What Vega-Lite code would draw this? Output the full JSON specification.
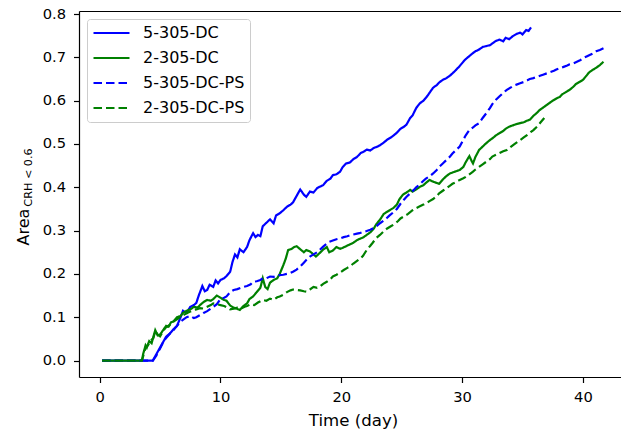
{
"$schema": "https://vega.github.io/schema/vega-lite/v6.json",
"width": 542, "height": 366,
"autosize": {"type": "none"},
"padding": {"left": 79, "top": 11, "right": 0, "bottom": 56},
"background": "white",
"config": {
  "view": {"stroke": null},
  "font": "DejaVu Sans",
  "axis": {"grid": false, "domainColor": "black", "tickColor": "black", "labelColor": "black", "titleColor": "black",
           "labelFont": "DejaVu Sans", "titleFont": "DejaVu Sans", "labelFontSize": 14.7, "titleFontWeight": "normal",
           "tickSize": 5.5, "domainWidth": 1.2, "tickWidth": 1.2}
},
"data": {"values": [
{"series":"5-305-DC","day":0.2,"area":0},{"series":"5-305-DC","day":1.5,"area":0},{"series":"5-305-DC","day":3,"area":0},{"series":"5-305-DC","day":4.4,"area":0},{"series":"5-305-DC","day":4.7,"area":0.015},{"series":"5-305-DC","day":5.0,"area":0.03},{"series":"5-305-DC","day":5.3,"area":0.045},{"series":"5-305-DC","day":5.5,"area":0.055},{"series":"5-305-DC","day":5.8,"area":0.062},{"series":"5-305-DC","day":6.1,"area":0.072},{"series":"5-305-DC","day":6.4,"area":0.08},{"series":"5-305-DC","day":6.7,"area":0.1},{"series":"5-305-DC","day":6.9,"area":0.115},{"series":"5-305-DC","day":7.2,"area":0.11},{"series":"5-305-DC","day":7.5,"area":0.124},{"series":"5-305-DC","day":7.8,"area":0.128},{"series":"5-305-DC","day":8.0,"area":0.133},{"series":"5-305-DC","day":8.2,"area":0.15},{"series":"5-305-DC","day":8.5,"area":0.172},{"series":"5-305-DC","day":8.7,"area":0.16},{"series":"5-305-DC","day":8.9,"area":0.163},{"series":"5-305-DC","day":9.1,"area":0.175},{"series":"5-305-DC","day":9.4,"area":0.17},{"series":"5-305-DC","day":9.6,"area":0.185},{"series":"5-305-DC","day":9.8,"area":0.178},{"series":"5-305-DC","day":10.0,"area":0.186},{"series":"5-305-DC","day":10.3,"area":0.19},{"series":"5-305-DC","day":10.5,"area":0.195},{"series":"5-305-DC","day":10.8,"area":0.205},{"series":"5-305-DC","day":11.0,"area":0.228},{"series":"5-305-DC","day":11.2,"area":0.245},{"series":"5-305-DC","day":11.4,"area":0.238},{"series":"5-305-DC","day":11.6,"area":0.257},{"series":"5-305-DC","day":11.9,"area":0.25},{"series":"5-305-DC","day":12.2,"area":0.262},{"series":"5-305-DC","day":12.4,"area":0.278},{"series":"5-305-DC","day":12.7,"area":0.294},{"series":"5-305-DC","day":12.9,"area":0.285},{"series":"5-305-DC","day":13.1,"area":0.29},{"series":"5-305-DC","day":13.3,"area":0.287},{"series":"5-305-DC","day":13.5,"area":0.31},{"series":"5-305-DC","day":13.8,"area":0.318},{"series":"5-305-DC","day":14.1,"area":0.326},{"series":"5-305-DC","day":14.4,"area":0.317},{"series":"5-305-DC","day":14.6,"area":0.335},{"series":"5-305-DC","day":14.9,"area":0.34},{"series":"5-305-DC","day":15.2,"area":0.347},{"series":"5-305-DC","day":15.5,"area":0.355},{"series":"5-305-DC","day":15.8,"area":0.36},{"series":"5-305-DC","day":16.0,"area":0.365},{"series":"5-305-DC","day":16.3,"area":0.38},{"series":"5-305-DC","day":16.6,"area":0.395},{"series":"5-305-DC","day":16.9,"area":0.383},{"series":"5-305-DC","day":17.1,"area":0.378},{"series":"5-305-DC","day":17.4,"area":0.39},{"series":"5-305-DC","day":17.7,"area":0.388},{"series":"5-305-DC","day":18.0,"area":0.398},{"series":"5-305-DC","day":18.2,"area":0.401},{"series":"5-305-DC","day":18.5,"area":0.405},{"series":"5-305-DC","day":18.8,"area":0.415},{"series":"5-305-DC","day":19.1,"area":0.42},{"series":"5-305-DC","day":19.3,"area":0.428},{"series":"5-305-DC","day":19.6,"area":0.43},{"series":"5-305-DC","day":19.9,"area":0.436},{"series":"5-305-DC","day":20.1,"area":0.446},{"series":"5-305-DC","day":20.4,"area":0.455},{"series":"5-305-DC","day":20.7,"area":0.457},{"series":"5-305-DC","day":21.0,"area":0.465},{"series":"5-305-DC","day":21.3,"area":0.47},{"series":"5-305-DC","day":21.6,"area":0.479},{"series":"5-305-DC","day":21.9,"area":0.483},{"series":"5-305-DC","day":22.1,"area":0.487},{"series":"5-305-DC","day":22.4,"area":0.485},{"series":"5-305-DC","day":22.7,"area":0.491},{"series":"5-305-DC","day":23.0,"area":0.494},{"series":"5-305-DC","day":23.2,"area":0.497},{"series":"5-305-DC","day":23.5,"area":0.503},{"series":"5-305-DC","day":23.8,"area":0.51},{"series":"5-305-DC","day":24.1,"area":0.515},{"series":"5-305-DC","day":24.3,"area":0.519},{"series":"5-305-DC","day":24.6,"area":0.526},{"series":"5-305-DC","day":24.9,"area":0.535},{"series":"5-305-DC","day":25.2,"area":0.54},{"series":"5-305-DC","day":25.4,"area":0.545},{"series":"5-305-DC","day":25.7,"area":0.56},{"series":"5-305-DC","day":25.9,"area":0.566},{"series":"5-305-DC","day":26.2,"area":0.583},{"series":"5-305-DC","day":26.5,"area":0.594},{"series":"5-305-DC","day":26.8,"area":0.6},{"series":"5-305-DC","day":27.1,"area":0.61},{"series":"5-305-DC","day":27.4,"area":0.622},{"series":"5-305-DC","day":27.6,"area":0.63},{"series":"5-305-DC","day":27.9,"area":0.636},{"series":"5-305-DC","day":28.1,"area":0.642},{"series":"5-305-DC","day":28.4,"area":0.648},{"series":"5-305-DC","day":28.7,"area":0.652},{"series":"5-305-DC","day":29.0,"area":0.658},{"series":"5-305-DC","day":29.2,"area":0.663},{"series":"5-305-DC","day":29.5,"area":0.671},{"series":"5-305-DC","day":29.8,"area":0.68},{"series":"5-305-DC","day":30.1,"area":0.69},{"series":"5-305-DC","day":30.3,"area":0.696},{"series":"5-305-DC","day":30.6,"area":0.703},{"series":"5-305-DC","day":30.9,"area":0.71},{"series":"5-305-DC","day":31.1,"area":0.714},{"series":"5-305-DC","day":31.4,"area":0.718},{"series":"5-305-DC","day":31.7,"area":0.724},{"series":"5-305-DC","day":32.0,"area":0.726},{"series":"5-305-DC","day":32.3,"area":0.728},{"series":"5-305-DC","day":32.6,"area":0.734},{"series":"5-305-DC","day":32.8,"area":0.738},{"series":"5-305-DC","day":33.1,"area":0.741},{"series":"5-305-DC","day":33.4,"area":0.737},{"series":"5-305-DC","day":33.6,"area":0.745},{"series":"5-305-DC","day":33.9,"area":0.742},{"series":"5-305-DC","day":34.2,"area":0.749},{"series":"5-305-DC","day":34.5,"area":0.754},{"series":"5-305-DC","day":34.8,"area":0.757},{"series":"5-305-DC","day":35.0,"area":0.753},{"series":"5-305-DC","day":35.3,"area":0.763},{"series":"5-305-DC","day":35.5,"area":0.761},{"series":"5-305-DC","day":35.7,"area":0.769},
{"series":"2-305-DC","day":0.2,"area":0},{"series":"2-305-DC","day":1.5,"area":0},{"series":"2-305-DC","day":3.5,"area":0},{"series":"2-305-DC","day":3.6,"area":0.015},{"series":"2-305-DC","day":3.8,"area":0.035},{"series":"2-305-DC","day":3.9,"area":0.03},{"series":"2-305-DC","day":4.1,"area":0.045},{"series":"2-305-DC","day":4.3,"area":0.04},{"series":"2-305-DC","day":4.5,"area":0.06},{"series":"2-305-DC","day":4.6,"area":0.07},{"series":"2-305-DC","day":4.8,"area":0.058},{"series":"2-305-DC","day":5.0,"area":0.06},{"series":"2-305-DC","day":5.3,"area":0.072},{"series":"2-305-DC","day":5.5,"area":0.08},{"series":"2-305-DC","day":5.7,"area":0.078},{"series":"2-305-DC","day":5.9,"area":0.088},{"series":"2-305-DC","day":6.1,"area":0.09},{"series":"2-305-DC","day":6.4,"area":0.1},{"series":"2-305-DC","day":6.7,"area":0.103},{"series":"2-305-DC","day":6.9,"area":0.11},{"series":"2-305-DC","day":7.2,"area":0.115},{"series":"2-305-DC","day":7.5,"area":0.118},{"series":"2-305-DC","day":7.8,"area":0.124},{"series":"2-305-DC","day":8.1,"area":0.122},{"series":"2-305-DC","day":8.3,"area":0.128},{"series":"2-305-DC","day":8.6,"area":0.135},{"series":"2-305-DC","day":8.9,"area":0.14},{"series":"2-305-DC","day":9.2,"area":0.138},{"series":"2-305-DC","day":9.4,"area":0.142},{"series":"2-305-DC","day":9.7,"area":0.15},{"series":"2-305-DC","day":10.0,"area":0.145},{"series":"2-305-DC","day":10.3,"area":0.14},{"series":"2-305-DC","day":10.5,"area":0.138},{"series":"2-305-DC","day":10.8,"area":0.127},{"series":"2-305-DC","day":11.1,"area":0.122},{"series":"2-305-DC","day":11.3,"area":0.12},{"series":"2-305-DC","day":11.6,"area":0.117},{"series":"2-305-DC","day":11.9,"area":0.126},{"series":"2-305-DC","day":12.2,"area":0.132},{"series":"2-305-DC","day":12.4,"area":0.142},{"series":"2-305-DC","day":12.7,"area":0.148},{"series":"2-305-DC","day":13.0,"area":0.158},{"series":"2-305-DC","day":13.3,"area":0.168},{"series":"2-305-DC","day":13.5,"area":0.19},{"series":"2-305-DC","day":13.7,"area":0.17},{"series":"2-305-DC","day":13.9,"area":0.165},{"series":"2-305-DC","day":14.1,"area":0.18},{"series":"2-305-DC","day":14.4,"area":0.186},{"series":"2-305-DC","day":14.7,"area":0.19},{"series":"2-305-DC","day":14.9,"area":0.2},{"series":"2-305-DC","day":15.2,"area":0.22},{"series":"2-305-DC","day":15.4,"area":0.235},{"series":"2-305-DC","day":15.6,"area":0.255},{"series":"2-305-DC","day":15.9,"area":0.258},{"series":"2-305-DC","day":16.1,"area":0.262},{"series":"2-305-DC","day":16.3,"area":0.264},{"series":"2-305-DC","day":16.6,"area":0.257},{"series":"2-305-DC","day":16.9,"area":0.25},{"series":"2-305-DC","day":17.1,"area":0.255},{"series":"2-305-DC","day":17.4,"area":0.252},{"series":"2-305-DC","day":17.7,"area":0.245},{"series":"2-305-DC","day":17.9,"area":0.24},{"series":"2-305-DC","day":18.2,"area":0.248},{"series":"2-305-DC","day":18.5,"area":0.256},{"series":"2-305-DC","day":18.8,"area":0.262},{"series":"2-305-DC","day":19.0,"area":0.25},{"series":"2-305-DC","day":19.3,"area":0.254},{"series":"2-305-DC","day":19.6,"area":0.262},{"series":"2-305-DC","day":19.9,"area":0.258},{"series":"2-305-DC","day":20.1,"area":0.26},{"series":"2-305-DC","day":20.4,"area":0.264},{"series":"2-305-DC","day":20.7,"area":0.268},{"series":"2-305-DC","day":21.0,"area":0.272},{"series":"2-305-DC","day":21.3,"area":0.278},{"series":"2-305-DC","day":21.6,"area":0.282},{"series":"2-305-DC","day":21.8,"area":0.284},{"series":"2-305-DC","day":22.1,"area":0.29},{"series":"2-305-DC","day":22.4,"area":0.296},{"series":"2-305-DC","day":22.7,"area":0.305},{"series":"2-305-DC","day":22.9,"area":0.315},{"series":"2-305-DC","day":23.2,"area":0.325},{"series":"2-305-DC","day":23.5,"area":0.338},{"series":"2-305-DC","day":23.7,"area":0.342},{"series":"2-305-DC","day":24.0,"area":0.347},{"series":"2-305-DC","day":24.3,"area":0.352},{"series":"2-305-DC","day":24.6,"area":0.36},{"series":"2-305-DC","day":24.8,"area":0.372},{"series":"2-305-DC","day":25.1,"area":0.383},{"series":"2-305-DC","day":25.4,"area":0.388},{"series":"2-305-DC","day":25.7,"area":0.394},{"series":"2-305-DC","day":25.9,"area":0.39},{"series":"2-305-DC","day":26.2,"area":0.395},{"series":"2-305-DC","day":26.5,"area":0.401},{"series":"2-305-DC","day":26.8,"area":0.405},{"series":"2-305-DC","day":27.0,"area":0.41},{"series":"2-305-DC","day":27.3,"area":0.417},{"series":"2-305-DC","day":27.6,"area":0.413},{"series":"2-305-DC","day":27.9,"area":0.41},{"series":"2-305-DC","day":28.1,"area":0.408},{"series":"2-305-DC","day":28.4,"area":0.418},{"series":"2-305-DC","day":28.7,"area":0.426},{"series":"2-305-DC","day":29.0,"area":0.432},{"series":"2-305-DC","day":29.2,"area":0.434},{"series":"2-305-DC","day":29.5,"area":0.437},{"series":"2-305-DC","day":29.8,"area":0.44},{"series":"2-305-DC","day":30.1,"area":0.447},{"series":"2-305-DC","day":30.3,"area":0.458},{"series":"2-305-DC","day":30.6,"area":0.472},{"series":"2-305-DC","day":30.8,"area":0.46},{"series":"2-305-DC","day":30.9,"area":0.455},{"series":"2-305-DC","day":31.1,"area":0.47},{"series":"2-305-DC","day":31.4,"area":0.486},{"series":"2-305-DC","day":31.7,"area":0.494},{"series":"2-305-DC","day":32.0,"area":0.502},{"series":"2-305-DC","day":32.3,"area":0.509},{"series":"2-305-DC","day":32.6,"area":0.515},{"series":"2-305-DC","day":32.8,"area":0.52},{"series":"2-305-DC","day":33.1,"area":0.525},{"series":"2-305-DC","day":33.4,"area":0.53},{"series":"2-305-DC","day":33.6,"area":0.535},{"series":"2-305-DC","day":33.9,"area":0.54},{"series":"2-305-DC","day":34.2,"area":0.543},{"series":"2-305-DC","day":34.5,"area":0.546},{"series":"2-305-DC","day":34.8,"area":0.548},{"series":"2-305-DC","day":35.1,"area":0.55},{"series":"2-305-DC","day":35.3,"area":0.553},{"series":"2-305-DC","day":35.6,"area":0.556},{"series":"2-305-DC","day":35.9,"area":0.565},{"series":"2-305-DC","day":36.2,"area":0.572},{"series":"2-305-DC","day":36.4,"area":0.578},{"series":"2-305-DC","day":36.7,"area":0.584},{"series":"2-305-DC","day":37.0,"area":0.59},{"series":"2-305-DC","day":37.2,"area":0.594},{"series":"2-305-DC","day":37.5,"area":0.6},{"series":"2-305-DC","day":37.8,"area":0.605},{"series":"2-305-DC","day":38.1,"area":0.609},{"series":"2-305-DC","day":38.3,"area":0.615},{"series":"2-305-DC","day":38.6,"area":0.62},{"series":"2-305-DC","day":38.9,"area":0.625},{"series":"2-305-DC","day":39.2,"area":0.632},{"series":"2-305-DC","day":39.4,"area":0.638},{"series":"2-305-DC","day":39.7,"area":0.643},{"series":"2-305-DC","day":40.0,"area":0.648},{"series":"2-305-DC","day":40.3,"area":0.658},{"series":"2-305-DC","day":40.5,"area":0.665},{"series":"2-305-DC","day":40.8,"area":0.671},{"series":"2-305-DC","day":41.1,"area":0.676},{"series":"2-305-DC","day":41.4,"area":0.682},{"series":"2-305-DC","day":41.7,"area":0.69},
{"series":"5-305-DC-PS","day":0.2,"area":0},{"series":"5-305-DC-PS","day":1.5,"area":0},{"series":"5-305-DC-PS","day":3,"area":0},{"series":"5-305-DC-PS","day":4.4,"area":0},{"series":"5-305-DC-PS","day":4.7,"area":0.012},{"series":"5-305-DC-PS","day":5.0,"area":0.028},{"series":"5-305-DC-PS","day":5.3,"area":0.045},{"series":"5-305-DC-PS","day":5.5,"area":0.052},{"series":"5-305-DC-PS","day":5.8,"area":0.062},{"series":"5-305-DC-PS","day":6.1,"area":0.07},{"series":"5-305-DC-PS","day":6.4,"area":0.08},{"series":"5-305-DC-PS","day":6.7,"area":0.09},{"series":"5-305-DC-PS","day":7.0,"area":0.096},{"series":"5-305-DC-PS","day":7.2,"area":0.1},{"series":"5-305-DC-PS","day":7.5,"area":0.103},{"series":"5-305-DC-PS","day":7.8,"area":0.098},{"series":"5-305-DC-PS","day":8.0,"area":0.1},{"series":"5-305-DC-PS","day":8.3,"area":0.105},{"series":"5-305-DC-PS","day":8.6,"area":0.11},{"series":"5-305-DC-PS","day":8.9,"area":0.114},{"series":"5-305-DC-PS","day":9.2,"area":0.12},{"series":"5-305-DC-PS","day":9.4,"area":0.124},{"series":"5-305-DC-PS","day":9.7,"area":0.13},{"series":"5-305-DC-PS","day":10.0,"area":0.142},{"series":"5-305-DC-PS","day":10.3,"area":0.145},{"series":"5-305-DC-PS","day":10.5,"area":0.148},{"series":"5-305-DC-PS","day":10.8,"area":0.158},{"series":"5-305-DC-PS","day":11.1,"area":0.163},{"series":"5-305-DC-PS","day":11.4,"area":0.165},{"series":"5-305-DC-PS","day":11.7,"area":0.168},{"series":"5-305-DC-PS","day":11.9,"area":0.17},{"series":"5-305-DC-PS","day":12.2,"area":0.172},{"series":"5-305-DC-PS","day":12.5,"area":0.176},{"series":"5-305-DC-PS","day":12.7,"area":0.182},{"series":"5-305-DC-PS","day":13.0,"area":0.183},{"series":"5-305-DC-PS","day":13.3,"area":0.186},{"series":"5-305-DC-PS","day":13.5,"area":0.19},{"series":"5-305-DC-PS","day":13.8,"area":0.19},{"series":"5-305-DC-PS","day":14.1,"area":0.194},{"series":"5-305-DC-PS","day":14.4,"area":0.193},{"series":"5-305-DC-PS","day":14.7,"area":0.196},{"series":"5-305-DC-PS","day":14.9,"area":0.197},{"series":"5-305-DC-PS","day":15.2,"area":0.198},{"series":"5-305-DC-PS","day":15.5,"area":0.2},{"series":"5-305-DC-PS","day":15.7,"area":0.201},{"series":"5-305-DC-PS","day":16.0,"area":0.205},{"series":"5-305-DC-PS","day":16.3,"area":0.21},{"series":"5-305-DC-PS","day":16.6,"area":0.217},{"series":"5-305-DC-PS","day":16.9,"area":0.226},{"series":"5-305-DC-PS","day":17.1,"area":0.232},{"series":"5-305-DC-PS","day":17.4,"area":0.24},{"series":"5-305-DC-PS","day":17.7,"area":0.245},{"series":"5-305-DC-PS","day":18.0,"area":0.25},{"series":"5-305-DC-PS","day":18.2,"area":0.255},{"series":"5-305-DC-PS","day":18.5,"area":0.263},{"series":"5-305-DC-PS","day":18.8,"area":0.27},{"series":"5-305-DC-PS","day":19.0,"area":0.274},{"series":"5-305-DC-PS","day":19.3,"area":0.277},{"series":"5-305-DC-PS","day":19.6,"area":0.28},{"series":"5-305-DC-PS","day":19.9,"area":0.282},{"series":"5-305-DC-PS","day":20.2,"area":0.285},{"series":"5-305-DC-PS","day":20.5,"area":0.287},{"series":"5-305-DC-PS","day":20.7,"area":0.289},{"series":"5-305-DC-PS","day":21.0,"area":0.291},{"series":"5-305-DC-PS","day":21.3,"area":0.293},{"series":"5-305-DC-PS","day":21.5,"area":0.294},{"series":"5-305-DC-PS","day":21.8,"area":0.297},{"series":"5-305-DC-PS","day":22.1,"area":0.299},{"series":"5-305-DC-PS","day":22.4,"area":0.302},{"series":"5-305-DC-PS","day":22.7,"area":0.306},{"series":"5-305-DC-PS","day":22.9,"area":0.31},{"series":"5-305-DC-PS","day":23.2,"area":0.317},{"series":"5-305-DC-PS","day":23.5,"area":0.323},{"series":"5-305-DC-PS","day":23.8,"area":0.33},{"series":"5-305-DC-PS","day":24.0,"area":0.335},{"series":"5-305-DC-PS","day":24.3,"area":0.342},{"series":"5-305-DC-PS","day":24.6,"area":0.35},{"series":"5-305-DC-PS","day":24.9,"area":0.362},{"series":"5-305-DC-PS","day":25.2,"area":0.372},{"series":"5-305-DC-PS","day":25.4,"area":0.378},{"series":"5-305-DC-PS","day":25.7,"area":0.386},{"series":"5-305-DC-PS","day":26.0,"area":0.394},{"series":"5-305-DC-PS","day":26.2,"area":0.4},{"series":"5-305-DC-PS","day":26.5,"area":0.407},{"series":"5-305-DC-PS","day":26.8,"area":0.415},{"series":"5-305-DC-PS","day":27.0,"area":0.42},{"series":"5-305-DC-PS","day":27.3,"area":0.425},{"series":"5-305-DC-PS","day":27.6,"area":0.432},{"series":"5-305-DC-PS","day":27.9,"area":0.44},{"series":"5-305-DC-PS","day":28.1,"area":0.447},{"series":"5-305-DC-PS","day":28.4,"area":0.455},{"series":"5-305-DC-PS","day":28.7,"area":0.463},{"series":"5-305-DC-PS","day":29.0,"area":0.471},{"series":"5-305-DC-PS","day":29.2,"area":0.478},{"series":"5-305-DC-PS","day":29.5,"area":0.486},{"series":"5-305-DC-PS","day":29.8,"area":0.494},{"series":"5-305-DC-PS","day":30.1,"area":0.51},{"series":"5-305-DC-PS","day":30.3,"area":0.52},{"series":"5-305-DC-PS","day":30.6,"area":0.532},{"series":"5-305-DC-PS","day":30.9,"area":0.538},{"series":"5-305-DC-PS","day":31.1,"area":0.543},{"series":"5-305-DC-PS","day":31.4,"area":0.548},{"series":"5-305-DC-PS","day":31.7,"area":0.56},{"series":"5-305-DC-PS","day":32.0,"area":0.571},{"series":"5-305-DC-PS","day":32.3,"area":0.583},{"series":"5-305-DC-PS","day":32.5,"area":0.592},{"series":"5-305-DC-PS","day":32.8,"area":0.602},{"series":"5-305-DC-PS","day":33.1,"area":0.61},{"series":"5-305-DC-PS","day":33.4,"area":0.618},{"series":"5-305-DC-PS","day":33.7,"area":0.625},{"series":"5-305-DC-PS","day":34.0,"area":0.63},{"series":"5-305-DC-PS","day":34.3,"area":0.635},{"series":"5-305-DC-PS","day":34.5,"area":0.637},{"series":"5-305-DC-PS","day":34.8,"area":0.64},{"series":"5-305-DC-PS","day":35.1,"area":0.643},{"series":"5-305-DC-PS","day":35.4,"area":0.647},{"series":"5-305-DC-PS","day":35.6,"area":0.65},{"series":"5-305-DC-PS","day":35.9,"area":0.652},{"series":"5-305-DC-PS","day":36.2,"area":0.655},{"series":"5-305-DC-PS","day":36.5,"area":0.658},{"series":"5-305-DC-PS","day":36.7,"area":0.66},{"series":"5-305-DC-PS","day":37.0,"area":0.663},{"series":"5-305-DC-PS","day":37.3,"area":0.666},{"series":"5-305-DC-PS","day":37.6,"area":0.669},{"series":"5-305-DC-PS","day":37.8,"area":0.672},{"series":"5-305-DC-PS","day":38.1,"area":0.675},{"series":"5-305-DC-PS","day":38.4,"area":0.678},{"series":"5-305-DC-PS","day":38.7,"area":0.681},{"series":"5-305-DC-PS","day":38.9,"area":0.684},{"series":"5-305-DC-PS","day":39.2,"area":0.686},{"series":"5-305-DC-PS","day":39.5,"area":0.69},{"series":"5-305-DC-PS","day":39.8,"area":0.694},{"series":"5-305-DC-PS","day":40.0,"area":0.698},{"series":"5-305-DC-PS","day":40.3,"area":0.702},{"series":"5-305-DC-PS","day":40.6,"area":0.706},{"series":"5-305-DC-PS","day":40.9,"area":0.71},{"series":"5-305-DC-PS","day":41.1,"area":0.714},{"series":"5-305-DC-PS","day":41.4,"area":0.717},{"series":"5-305-DC-PS","day":41.7,"area":0.721},
{"series":"2-305-DC-PS","day":0.2,"area":0},{"series":"2-305-DC-PS","day":1.5,"area":0},{"series":"2-305-DC-PS","day":3.5,"area":0},{"series":"2-305-DC-PS","day":3.6,"area":0.01},{"series":"2-305-DC-PS","day":3.8,"area":0.03},{"series":"2-305-DC-PS","day":4.0,"area":0.035},{"series":"2-305-DC-PS","day":4.2,"area":0.045},{"series":"2-305-DC-PS","day":4.45,"area":0.052},{"series":"2-305-DC-PS","day":4.6,"area":0.068},{"series":"2-305-DC-PS","day":4.8,"area":0.06},{"series":"2-305-DC-PS","day":5.0,"area":0.056},{"series":"2-305-DC-PS","day":5.3,"area":0.07},{"series":"2-305-DC-PS","day":5.5,"area":0.077},{"series":"2-305-DC-PS","day":5.8,"area":0.082},{"series":"2-305-DC-PS","day":6.1,"area":0.09},{"series":"2-305-DC-PS","day":6.4,"area":0.095},{"series":"2-305-DC-PS","day":6.7,"area":0.101},{"series":"2-305-DC-PS","day":7.0,"area":0.106},{"series":"2-305-DC-PS","day":7.2,"area":0.109},{"series":"2-305-DC-PS","day":7.5,"area":0.113},{"series":"2-305-DC-PS","day":7.8,"area":0.117},{"series":"2-305-DC-PS","day":8.0,"area":0.118},{"series":"2-305-DC-PS","day":8.3,"area":0.121},{"series":"2-305-DC-PS","day":8.6,"area":0.12},{"series":"2-305-DC-PS","day":8.9,"area":0.124},{"series":"2-305-DC-PS","day":9.2,"area":0.128},{"series":"2-305-DC-PS","day":9.4,"area":0.132},{"series":"2-305-DC-PS","day":9.7,"area":0.13},{"series":"2-305-DC-PS","day":10.0,"area":0.128},{"series":"2-305-DC-PS","day":10.3,"area":0.126},{"series":"2-305-DC-PS","day":10.6,"area":0.122},{"series":"2-305-DC-PS","day":10.8,"area":0.118},{"series":"2-305-DC-PS","day":11.1,"area":0.12},{"series":"2-305-DC-PS","day":11.4,"area":0.122},{"series":"2-305-DC-PS","day":11.7,"area":0.12},{"series":"2-305-DC-PS","day":12.0,"area":0.124},{"series":"2-305-DC-PS","day":12.2,"area":0.126},{"series":"2-305-DC-PS","day":12.5,"area":0.13},{"series":"2-305-DC-PS","day":12.8,"area":0.128},{"series":"2-305-DC-PS","day":13.1,"area":0.134},{"series":"2-305-DC-PS","day":13.5,"area":0.14},{"series":"2-305-DC-PS","day":13.8,"area":0.138},{"series":"2-305-DC-PS","day":14.1,"area":0.143},{"series":"2-305-DC-PS","day":14.4,"area":0.14},{"series":"2-305-DC-PS","day":14.7,"area":0.146},{"series":"2-305-DC-PS","day":14.9,"area":0.148},{"series":"2-305-DC-PS","day":15.2,"area":0.152},{"series":"2-305-DC-PS","day":15.5,"area":0.158},{"series":"2-305-DC-PS","day":15.8,"area":0.162},{"series":"2-305-DC-PS","day":16.0,"area":0.164},{"series":"2-305-DC-PS","day":16.3,"area":0.163},{"series":"2-305-DC-PS","day":16.6,"area":0.162},{"series":"2-305-DC-PS","day":16.9,"area":0.16},{"series":"2-305-DC-PS","day":17.1,"area":0.159},{"series":"2-305-DC-PS","day":17.4,"area":0.164},{"series":"2-305-DC-PS","day":17.7,"area":0.17},{"series":"2-305-DC-PS","day":18.0,"area":0.168},{"series":"2-305-DC-PS","day":18.2,"area":0.17},{"series":"2-305-DC-PS","day":18.5,"area":0.177},{"series":"2-305-DC-PS","day":18.8,"area":0.182},{"series":"2-305-DC-PS","day":19.1,"area":0.188},{"series":"2-305-DC-PS","day":19.3,"area":0.194},{"series":"2-305-DC-PS","day":19.6,"area":0.198},{"series":"2-305-DC-PS","day":19.9,"area":0.203},{"series":"2-305-DC-PS","day":20.2,"area":0.209},{"series":"2-305-DC-PS","day":20.5,"area":0.214},{"series":"2-305-DC-PS","day":20.7,"area":0.217},{"series":"2-305-DC-PS","day":21.0,"area":0.224},{"series":"2-305-DC-PS","day":21.3,"area":0.23},{"series":"2-305-DC-PS","day":21.6,"area":0.236},{"series":"2-305-DC-PS","day":21.8,"area":0.242},{"series":"2-305-DC-PS","day":22.1,"area":0.255},{"series":"2-305-DC-PS","day":22.4,"area":0.265},{"series":"2-305-DC-PS","day":22.6,"area":0.272},{"series":"2-305-DC-PS","day":22.9,"area":0.283},{"series":"2-305-DC-PS","day":23.2,"area":0.29},{"series":"2-305-DC-PS","day":23.5,"area":0.298},{"series":"2-305-DC-PS","day":23.8,"area":0.305},{"series":"2-305-DC-PS","day":24.1,"area":0.31},{"series":"2-305-DC-PS","day":24.4,"area":0.315},{"series":"2-305-DC-PS","day":24.7,"area":0.322},{"series":"2-305-DC-PS","day":24.9,"area":0.328},{"series":"2-305-DC-PS","day":25.2,"area":0.333},{"series":"2-305-DC-PS","day":25.5,"area":0.338},{"series":"2-305-DC-PS","day":25.9,"area":0.347},{"series":"2-305-DC-PS","day":26.2,"area":0.352},{"series":"2-305-DC-PS","day":26.5,"area":0.356},{"series":"2-305-DC-PS","day":26.8,"area":0.36},{"series":"2-305-DC-PS","day":27.0,"area":0.363},{"series":"2-305-DC-PS","day":27.3,"area":0.368},{"series":"2-305-DC-PS","day":27.6,"area":0.373},{"series":"2-305-DC-PS","day":27.9,"area":0.38},{"series":"2-305-DC-PS","day":28.1,"area":0.386},{"series":"2-305-DC-PS","day":28.4,"area":0.392},{"series":"2-305-DC-PS","day":28.7,"area":0.398},{"series":"2-305-DC-PS","day":29.0,"area":0.404},{"series":"2-305-DC-PS","day":29.2,"area":0.408},{"series":"2-305-DC-PS","day":29.5,"area":0.412},{"series":"2-305-DC-PS","day":29.8,"area":0.417},{"series":"2-305-DC-PS","day":30.1,"area":0.421},{"series":"2-305-DC-PS","day":30.3,"area":0.424},{"series":"2-305-DC-PS","day":30.6,"area":0.43},{"series":"2-305-DC-PS","day":30.9,"area":0.436},{"series":"2-305-DC-PS","day":31.1,"area":0.441},{"series":"2-305-DC-PS","day":31.4,"area":0.447},{"series":"2-305-DC-PS","day":31.7,"area":0.453},{"series":"2-305-DC-PS","day":32.0,"area":0.459},{"series":"2-305-DC-PS","day":32.3,"area":0.465},{"series":"2-305-DC-PS","day":32.5,"area":0.471},{"series":"2-305-DC-PS","day":32.8,"area":0.475},{"series":"2-305-DC-PS","day":33.1,"area":0.479},{"series":"2-305-DC-PS","day":33.4,"area":0.483},{"series":"2-305-DC-PS","day":33.7,"area":0.486},{"series":"2-305-DC-PS","day":34.0,"area":0.493},{"series":"2-305-DC-PS","day":34.3,"area":0.499},{"series":"2-305-DC-PS","day":34.5,"area":0.503},{"series":"2-305-DC-PS","day":34.8,"area":0.509},{"series":"2-305-DC-PS","day":35.1,"area":0.515},{"series":"2-305-DC-PS","day":35.4,"area":0.521},{"series":"2-305-DC-PS","day":35.7,"area":0.528},{"series":"2-305-DC-PS","day":35.9,"area":0.532},{"series":"2-305-DC-PS","day":36.2,"area":0.54},{"series":"2-305-DC-PS","day":36.5,"area":0.55},{"series":"2-305-DC-PS","day":36.8,"area":0.56}
]},
"layer": [
  {
    "mark": {"type": "line", "strokeWidth": 2.2, "clip": true},
    "encoding": {
      "x": {"field": "day", "type": "quantitative",
            "scale": {"domain": [-1.71, 43.15], "nice": false, "zero": false},
            "axis": {"orient": "bottom", "values": [0, 10, 20, 30, 40], "labelFlush": false, "labelPadding": 7,
                     "title": "Time (day)", "titleFontSize": 16.6, "titleX": 274, "titleY": 48,
                     "titleAlign": "center", "titleBaseline": "alphabetic"}},
      "y": {"field": "area", "type": "quantitative",
            "scale": {"domain": [-0.038, 0.807], "nice": false, "zero": false},
            "axis": {"orient": "left", "values": [0, 0.1, 0.2, 0.3, 0.4, 0.5, 0.6, 0.7, 0.8], "format": ".1f",
                     "labelPadding": 8, "labelOverlap": false,
                     "title": "Area", "titleFontSize": 16, "titleX": -51, "titleY": 215.5, "titleAngle": -90,
                     "titleAlign": "center", "titleBaseline": "alphabetic"}},
      "color": {"field": "series", "type": "nominal",
                "scale": {"domain": ["5-305-DC", "2-305-DC", "5-305-DC-PS", "2-305-DC-PS"],
                          "range": ["#0000ff", "#008000", "#0000ff", "#008000"]},
                "legend": {"orient": "none", "legendX": 8, "legendY": 8, "title": null,
                           "symbolType": "stroke", "symbolSize": 1296, "symbolStrokeWidth": 2.2,
                           "labelFontSize": 16, "labelFont": "DejaVu Sans", "labelColor": "black", "labelOffset": 12,
                           "padding": 5, "rowPadding": 7, "clipHeight": 18, "labelLimit": 300,
                           "strokeColor": "#cccccc", "fillColor": "rgba(255,255,255,0.8)", "cornerRadius": 3}},
      "strokeDash": {"field": "series", "type": "nominal",
                     "scale": {"domain": ["5-305-DC", "2-305-DC", "5-305-DC-PS", "2-305-DC-PS"],
                               "range": [[1, 0], [1, 0], [8.5, 4], [8.5, 4]]},
                     "legend": {"orient": "none", "legendX": 8, "legendY": 8, "title": null,
                           "symbolType": "stroke", "symbolSize": 1296, "symbolStrokeWidth": 2.2,
                           "labelFontSize": 16, "labelFont": "DejaVu Sans", "labelColor": "black", "labelOffset": 12,
                           "padding": 5, "rowPadding": 7, "clipHeight": 18, "labelLimit": 300,
                           "strokeColor": "#cccccc", "fillColor": "rgba(255,255,255,0.8)", "cornerRadius": 3}}
    }
  },
  {
    "mark": {"type": "point", "opacity": 0},
    "encoding": {
      "x": {"field": "day", "type": "quantitative",
            "scale": {"domain": [-1.71, 43.15], "nice": false, "zero": false},
            "axis": {"orient": "top", "labels": false, "ticks": false, "title": null, "domain": true}},
      "y": {"field": "area", "type": "quantitative",
            "scale": {"domain": [-0.038, 0.807], "nice": false, "zero": false},
            "axis": {"orient": "left", "labels": false, "ticks": false, "domain": false,
                     "title": "CRH < 0.6", "titleFontSize": 11.2, "titleX": -48, "titleY": 166, "titleAngle": -90,
                     "titleAlign": "center", "titleBaseline": "alphabetic"}}
    }
  }
],
"resolve": {"axis": {"x": "independent", "y": "independent"}}
}
